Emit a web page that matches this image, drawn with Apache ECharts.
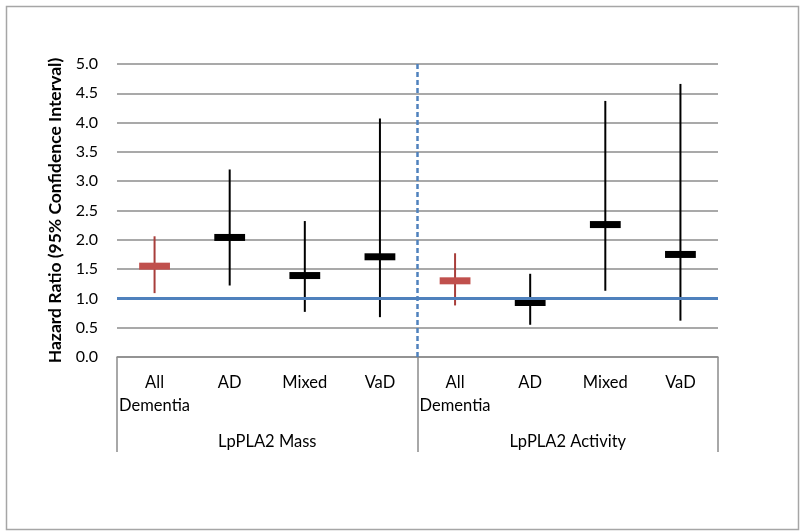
<!DOCTYPE html>
<html>
<head>
<meta charset="utf-8">
<script src="https://cdn.jsdelivr.net/npm/echarts@6/dist/echarts.min.js"></script>
<style>html,body{margin:0;padding:0;background:#fff}#c{width:800px;height:531px}</style>
</head>
<body>
<div id="c"></div>
<script>
const categories = ['All\nDementia', 'AD', 'Mixed', 'VaD', 'All\nDementia', 'AD', 'Mixed', 'VaD'];
const groups = ['LpPLA2 Mass', 'LpPLA2 Activity'];
const hazardRatio = [1.55, 2.04, 1.39, 1.71, 1.30, 0.93, 2.26, 1.75];
const lowerCI = [1.09, 1.22, 0.77, 0.68, 0.88, 0.55, 1.13, 0.62];
const upperCI = [2.06, 3.20, 2.32, 4.07, 1.77, 1.42, 4.37, 4.66];
const isAll = [true, false, false, false, true, false, false, false];
const yTicks = [0, 0.5, 1, 1.5, 2, 2.5, 3, 3.5, 4, 4.5, 5];

const FONT = 'Lato';
const chart = echarts.init(document.getElementById('c'));
const data = categories.map((c, i) => [i, hazardRatio[i], lowerCI[i], upperCI[i], isAll[i] ? 1 : 0]);

chart.setOption({
  animation: false,
  textStyle: { fontFamily: FONT },
  graphic: [{
    type: 'rect', left: 4, top: 4, shape: { width: 792, height: 523 },
    style: { fill: 'none', stroke: '#a6a6a6', lineWidth: 1.5 }, silent: true, z: -1
  }],
  grid: { left: 117, right: 82, top: 64, bottom: 174, containLabel: false },
  xAxis: [{
    type: 'category', data: categories, boundaryGap: true,
    axisLine: { show: true, lineStyle: { color: '#8c8c8c', width: 1.5 } },
    axisTick: { show: false },
    axisLabel: { color: '#000', fontSize: 16.5, fontFamily: FONT, margin: 14, lineHeight: 23, interval: 0 }
  }, {
    type: 'category', data: groups, boundaryGap: true, position: 'bottom',
    axisLine: { show: false },
    axisTick: { show: true, length: 95, lineStyle: { color: '#8c8c8c', width: 1.5 } },
    axisLabel: { color: '#000', fontSize: 16.5, fontFamily: FONT, margin: 76, interval: 0 }
  }],
  yAxis: {
    type: 'value', min: 0, max: 5, interval: 0.5,
    name: 'Hazard Ratio (95% Confidence Interval)', nameLocation: 'middle', nameGap: 46, nameRotate: 90,
    nameTextStyle: { color: '#000', fontSize: 17.5, fontWeight: 'bold', fontFamily: FONT },
    axisLine: { show: false }, axisTick: { show: false },
    axisLabel: { color: '#000', fontSize: 16, fontFamily: FONT, margin: 19, formatter: v => yTicks.includes(v) ? v.toFixed(1) : '' },
    splitLine: { lineStyle: { color: '#8c8c8c', width: 1.5 } }
  },
  series: [{
    type: 'custom',
    data: data,
    z: 3,
    renderItem: function (params, api) {
      const i = api.value(0);
      const c = api.coord([i, api.value(1)]);
      const lo = api.coord([i, api.value(2)]);
      const hi = api.coord([i, api.value(3)]);
      const red = api.value(4) === 1;
      const bw = api.size([1, 0])[0];
      const w = bw * 0.41, h = 7;
      return {
        type: 'group', children: [
          { type: 'line', shape: { x1: c[0], y1: hi[1], x2: c[0], y2: lo[1] },
            style: { stroke: red ? '#a83e3b' : '#000', lineWidth: 2 } },
          { type: 'rect', shape: { x: c[0] - w / 2, y: c[1] - h / 2, width: w, height: h },
            style: { fill: red ? '#c0504d' : '#000' } }
        ]
      };
    },
    markLine: {
      silent: true, symbol: 'none', label: { show: false },
      lineStyle: { color: '#4f81bd', width: 3, type: 'solid' },
      data: [{ yAxis: 1 }]
    }
  }, {
    type: 'custom',
    data: [[3, 4]],
    z: 4,
    renderItem: function (params, api) {
      const a = api.coord([api.value(0), 5]);
      const b = api.coord([api.value(1), 0]);
      const x = (a[0] + b[0]) / 2;
      return { type: 'line', shape: { x1: x, y1: a[1], x2: x, y2: b[1] },
        style: { stroke: '#4f81bd', lineWidth: 2.5, lineDash: [5, 3] } };
    }
  }]
});
</script>
</body>
</html>
